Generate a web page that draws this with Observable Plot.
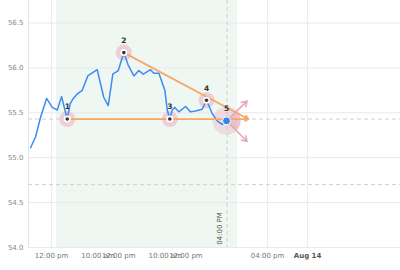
<!DOCTYPE html>
<html><head><meta charset="utf-8">
<script src="https://cdn.jsdelivr.net/npm/d3@7"></script>
<script src="https://cdn.jsdelivr.net/npm/@observablehq/plot@0.6"></script>
<style>body{margin:0;background:#fff}</style>
</head><body><div id="chart"></div>
<script>
// x = trading hours since day-1 09:30 (compressed trading-time axis)
const lineH = [0.47,0.95,1.44,2.02,2.57,3.05,3.47,4.02,4.30,4.60,4.99,5.47,6.01,6.92,7.56,7.99,8.43,8.96,9.50,9.92,10.47,10.95,11.38,12.08,12.40,12.89,13.47,13.70,13.95,14.18,14.44,14.82,15.47,15.96,16.44,17.09,17.50,18.06,18.54,19.02,19.44];
const lineV = [55.11,55.23,55.45,55.66,55.56,55.53,55.68,55.43,55.60,55.66,55.71,55.75,55.91,55.98,55.67,55.58,55.93,55.97,56.17,56.03,55.91,55.97,55.93,55.98,55.94,55.94,55.75,55.53,55.43,55.53,55.56,55.51,55.57,55.51,55.52,55.54,55.64,55.49,55.41,55.37,55.41];

const patternLabels = ["1","2","3","4","5"];
const patternH = [4.02, 9.50, 13.95, 17.50, 19.44];
const patternV = [55.43, 56.17, 55.43, 55.64, 55.41];

const apex = {h: 21.54, v: 55.43};
const fanTipsH = [21.44, 21.44];
const fanTipsV = [55.63, 55.18];

const supportLevel = 55.43;
const lowerLevel = 54.70;
const markerH = 19.5;           // 04:00 PM marker
const markerLabel = "04:00 PM";
const shadeStart = 2.98, shadeEnd = 20.5;

const xTickH = [2.5, 7, 9, 13.5, 15.5, 23.41];
const xTickLabels = ["12:00 pm","10:00 am","12:00 pm","10:00 am","12:00 pm","04:00 pm"];
const xBoldTickH = [27.28];
const xBoldTickLabels = ["Aug 14"];
const xGridH = [2.5, 23.41, 27.28];
const yTicks = [54.0, 54.5, 55.0, 55.5, 56.0, 56.5];
const xDomain = [0.27, 36.28];
const yDomain = [54, 56.75];

const line = lineH.map((h,i)=>({h, v: lineV[i]}));
const pts = patternH.map((h,i)=>({h, v: patternV[i], label: patternLabels[i]}));
const pivots = pts.slice(0,4);
const last = pts[4];

const wedge = {draw(ctx, size){ const r = Math.sqrt(size/Math.PI); ctx.moveTo(0,0); ctx.arc(0,0,r,-Math.PI/4,Math.PI/4); ctx.closePath(); }};

const font = "DejaVu Sans, Verdana, sans-serif";
const chart = Plot.plot({
  width: 400, height: 270,
  marginLeft: 28, marginRight: 0, marginTop: 0, marginBottom: 23,
  style: {fontFamily: font, fontSize: "7px", background: "#fff"},
  x: {domain: xDomain, label: null},
  y: {domain: yDomain, label: null},
  marks: [
    Plot.ruleX(xGridH, {stroke: "#ececec"}),
    Plot.rect([0], {x1: shadeStart, x2: shadeEnd, y1: yDomain[0], y2: yDomain[1], fill: "#eef7f2"}),
    Plot.ruleY(yTicks, {stroke: "#e9e9e9"}),
    Plot.ruleX([xDomain[0]], {stroke: "#e4e4e4"}),
    Plot.ruleY([lowerLevel], {stroke: "#cfcfcf", strokeDasharray: "4,3"}),
    Plot.ruleY([supportLevel], {stroke: "#cfcfcf", strokeDasharray: "4,3"}),
    Plot.ruleX([markerH], {stroke: "#cfcfcf", strokeDasharray: "4,3"}),
    Plot.text([markerLabel], {x: markerH, y: 54.03, rotate: -90, textAnchor: "start", dx: -7, fill: "#555", fontSize: 7}),
    Plot.axisY({ticks: yTicks, tickFormat: d3.format(".1f"), tickSize: 0, tickPadding: 5, fontSize: 7, color: "#888", label: null}),
    Plot.axisX({ticks: xTickH, tickFormat: (d,i)=>xTickLabels[i], tickSize: 0, tickPadding: 6, fontSize: 7, color: "#777", label: null}),
    Plot.axisX({ticks: xBoldTickH, tickFormat: (d,i)=>xBoldTickLabels[i], tickSize: 0, tickPadding: 6, fontSize: 7, fontWeight: "bold", color: "#555", label: null}),
    Plot.dot(pivots, {x: "h", y: "v", r: 8, fill: "#ecc6d0", fillOpacity: 0.8}),
    Plot.dot([last], {x: "h", y: "v", r: 14, fill: "#e8a0b2", fillOpacity: 0.3}),
    Plot.dot([last], {x: "h", y: "v", r: 14, symbol: wedge, fill: "#e8a0b2", fillOpacity: 0.45}),
    Plot.line(line, {x: "h", y: "v", stroke: "#3d8bf2", strokeWidth: 1.5}),
    Plot.arrow([pts[0], pts[1]], {x1: "h", y1: "v", x2: () => apex.h, y2: () => apex.v, stroke: "#f7a866", strokeWidth: 1.8, headLength: 3}),
    Plot.arrow(fanTipsH.map((h,i)=>({h, v: fanTipsV[i]})), {x1: () => last.h, y1: () => last.v, x2: "h", y2: "v", stroke: "#eaa6b6", strokeWidth: 1.5, headLength: 6}),
    Plot.dot(pivots, {x: "h", y: "v", r: 3.5, fill: "#fff"}),
    Plot.dot(pivots, {x: "h", y: "v", r: 1.8, fill: "#333"}),
    Plot.dot([last], {x: "h", y: "v", r: 4, fill: "#3a86e8", stroke: "#fff", strokeWidth: 1}),
    Plot.text(pts, {x: "h", y: "v", text: "label", dy: -12, fontSize: 7.5, fontWeight: "bold", fill: "#333"})
  ]
});
document.getElementById("chart").appendChild(chart);
</script>
</body></html>
